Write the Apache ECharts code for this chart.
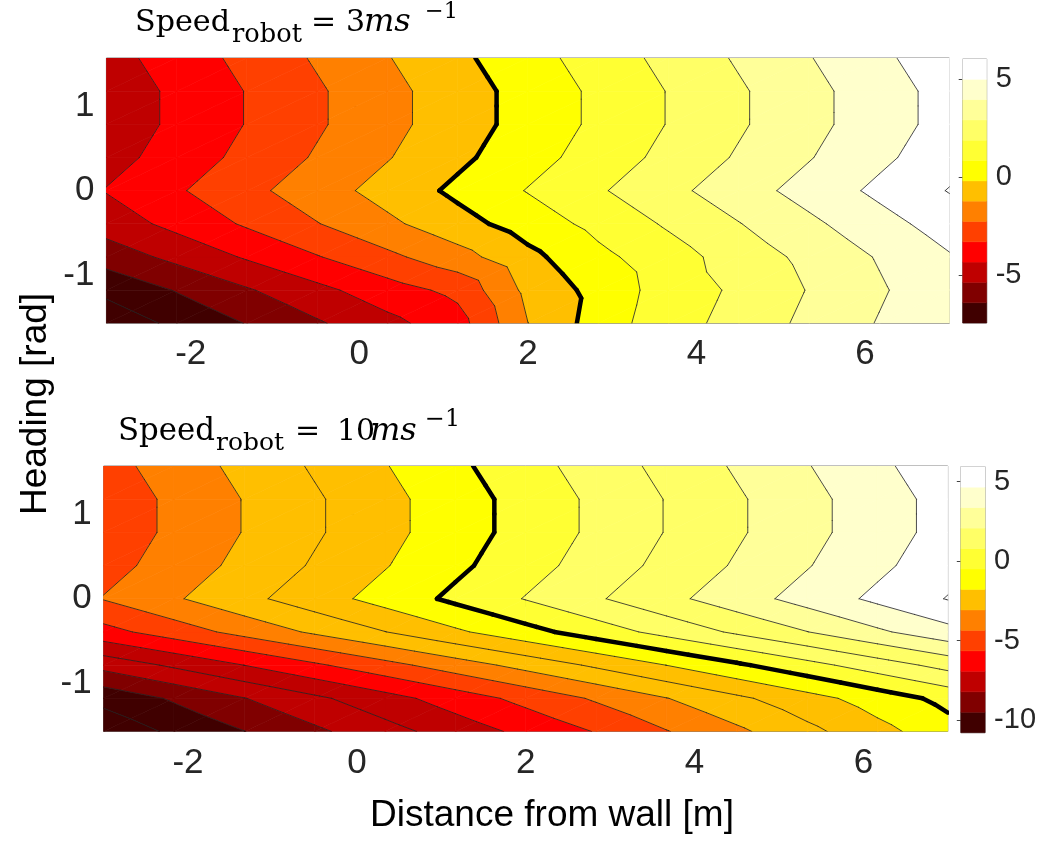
<!DOCTYPE html>
<html><head><meta charset="utf-8">
<script src="https://cdn.jsdelivr.net/npm/echarts@6/dist/echarts.min.js"></script>
<style>html,body{margin:0;padding:0;background:#fff}#c{width:1051px;height:858px}</style>
</head><body><div id="c"></div>
<script>
// ---- grid of the contour data ----
const distance = [-3, -2.1667, -1.3333, -0.5, 0.3333, 1.1667, 2, 2.8333, 3.6667, 4.5, 5.3333, 6.1667, 7];
const heading = [-1.5708, -1.1781, -0.7854, -0.3927, 0, 0.3927, 0.7854, 1.1781, 1.5708];

// rows: heading[0] (-pi/2) ... heading[8] (pi/2); columns: distance
const zSpeed3 = [
  [-7.62, -6.79, -5.96, -5.12, -4.29, -3.41, -1.01, 0.44, 1.61, 2.33, 3.25, 4.06, 4.90],
  [-6.77, -5.94, -5.10, -4.27, -3.44, -2.73, -0.73, 0.32, 1.46, 2.17, 3.05, 3.88, 4.71],
  [-5.56, -4.73, -3.89, -3.06, -2.23, -1.38, -0.27, 0.75, 1.56, 2.45, 3.25, 4.08, 4.92],
  [-4.54, -3.71, -2.87, -2.04, -1.21, -0.37, 0.46, 1.29, 2.13, 2.96, 3.79, 4.63, 5.46],
  [-3.95, -3.12, -2.28, -1.45, -0.62, 0.22, 1.05, 1.88, 2.72, 3.55, 4.38, 5.22, 6.05],
  [-4.39, -3.56, -2.72, -1.89, -1.06, -0.22, 0.61, 1.44, 2.28, 3.11, 3.94, 4.78, 5.61],
  [-4.63, -3.80, -2.96, -2.13, -1.30, -0.46, 0.37, 1.20, 2.04, 2.87, 3.70, 4.54, 5.37],
  [-4.63, -3.80, -2.96, -2.13, -1.30, -0.46, 0.37, 1.20, 2.04, 2.87, 3.70, 4.54, 5.37],
  [-4.38, -3.55, -2.71, -1.88, -1.05, -0.21, 0.62, 1.45, 2.29, 3.12, 3.95, 4.79, 5.62]
];
const zSpeed10 = [
  [-10.70, -9.82, -9.02, -8.20, -7.37, -6.55, -5.75, -4.95, -4.05, -3.20, -2.27, -1.33, -0.40],
  [-9.70, -8.87, -8.03, -7.20, -6.37, -5.53, -4.70, -3.87, -3.03, -2.20, -1.37, -0.53, 0.30],
  [-7.66, -6.83, -5.99, -5.16, -4.33, -3.49, -2.66, -1.83, -0.99, -0.16, 0.67, 1.51, 2.34],
  [-5.34, -4.51, -3.67, -2.84, -2.02, -1.17, -0.34, 0.49, 1.33, 2.16, 2.98, 3.83, 4.66],
  [-3.95, -3.12, -2.28, -1.45, -0.62, 0.22, 1.05, 1.88, 2.72, 3.55, 4.38, 5.22, 6.05],
  [-4.39, -3.56, -2.72, -1.89, -1.06, -0.22, 0.61, 1.44, 2.28, 3.11, 3.94, 4.78, 5.61],
  [-4.63, -3.80, -2.96, -2.13, -1.30, -0.46, 0.37, 1.20, 2.04, 2.87, 3.70, 4.54, 5.37],
  [-4.63, -3.80, -2.96, -2.13, -1.30, -0.46, 0.37, 1.20, 2.04, 2.87, 3.70, 4.54, 5.37],
  [-4.38, -3.55, -2.71, -1.88, -1.05, -0.21, 0.62, 1.45, 2.29, 3.12, 3.95, 4.79, 5.62]
];

// contour levels and fill colour of each band (below first level ... above last level)
const levels3 = [-7, -6, -5, -4, -3, -2, -1, 0, 1, 2, 3, 4, 5, 6];
const bands3 = ['#400000', '#400000', '#800000', '#bf0000', '#ff0000', '#ff4000', '#ff8000', '#ffbf00',
  '#ffff00', '#ffff33', '#ffff66', '#ffff99', '#ffffcc', '#ffffff', '#ffffff'];
const levels10 = [-10, -9, -8, -7, -6, -5, -4, -3, -2, -1, 0, 1, 2, 3, 4, 5, 6];
const bands10 = ['#400000', '#400000', '#800000', '#bf0000', '#bf0000', '#ff0000', '#ff4000', '#ff8000',
  '#ffbf00', '#ffbf00', '#ffff00', '#ffff33', '#ffff66', '#ffff66', '#ffff99', '#ffffcc', '#ffffff', '#ffffff'];
const thickLevel = 0;

// colormap (hot, 13 entries) and colourbar ranges
const hotColors = ['#400000', '#800000', '#bf0000', '#ff0000', '#ff4000', '#ff8000', '#ffbf00',
  '#ffff00', '#ffff33', '#ffff66', '#ffff99', '#ffffcc', '#ffffff'];
const cbarRange3 = [-7.45, 6.04];
const cbarRange10 = [-10.8, 5.94];

// tick labels
const xTicks = [-2, 0, 2, 4, 6];
const yTicks = [-1, 0, 1];
const cbarTicks3 = [-5, 0, 5];
const cbarTicks10 = [-10, -5, 0, 5];

// ---- contour helpers ----
function tris(Z, i, j) {
  const P = (a, b) => ({ p: [distance[a], heading[b]], v: Z[b][a] });
  const A = P(i, j), B = P(i + 1, j), C = P(i + 1, j + 1), D = P(i, j + 1);
  return [[A, B, C], [A, C, D]];
}
function clip(poly, lev, above) {
  const out = [];
  for (let k = 0; k < poly.length; k++) {
    const a = poly[k], b = poly[(k + 1) % poly.length];
    const ia = above ? a.v >= lev : a.v <= lev;
    const ib = above ? b.v >= lev : b.v <= lev;
    if (ia) out.push(a);
    if (ia !== ib) {
      const t = (lev - a.v) / (b.v - a.v);
      out.push({ p: [a.p[0] + t * (b.p[0] - a.p[0]), a.p[1] + t * (b.p[1] - a.p[1])], v: lev });
    }
  }
  return out;
}
function iso(tri, L) {
  const pts = [];
  for (let k = 0; k < 3; k++) {
    const a = tri[k], b = tri[(k + 1) % 3];
    if ((a.v >= L) !== (b.v >= L)) {
      const t = (L - a.v) / (b.v - a.v);
      pts.push([a.p[0] + t * (b.p[0] - a.p[0]), a.p[1] + t * (b.p[1] - a.p[1])]);
    }
  }
  return pts.length === 2 ? pts : null;
}
function fillRender(Z, levels, colors) {
  return function (params, api) {
    const i = api.value(2), j = api.value(3);
    const children = [];
    for (const tri of tris(Z, i, j)) {
      for (let k = 0; k <= levels.length; k++) {
        let poly = tri;
        if (k > 0) poly = clip(poly, levels[k - 1], true);
        if (poly.length >= 3 && k < levels.length) poly = clip(poly, levels[k], false);
        if (poly.length < 3) continue;
        children.push({
          type: 'polygon', silent: true,
          shape: { points: poly.map(q => api.coord(q.p)) },
          style: { fill: colors[k], stroke: colors[k], lineWidth: 0.7 }
        });
      }
    }
    return { type: 'group', children };
  };
}
function lineRender(Z, levels, thick) {
  return function (params, api) {
    const i = api.value(2), j = api.value(3);
    const children = [];
    for (const tri of tris(Z, i, j)) {
      for (const L of levels) {
        if ((L === thickLevel) !== thick) continue;
        const s = iso(tri, L);
        if (!s) continue;
        const a = api.coord(s[0]), b = api.coord(s[1]);
        children.push({
          type: 'line', silent: true,
          shape: { x1: a[0], y1: a[1], x2: b[0], y2: b[1] },
          style: thick ? { stroke: '#000', lineWidth: 4.5, lineCap: 'round' }
                       : { stroke: '#222', lineWidth: 0.9, lineCap: 'round', opacity: 0.9 }
        });
      }
    }
    return { type: 'group', children };
  };
}
const cells = [];
for (let j = 0; j < heading.length - 1; j++)
  for (let i = 0; i < distance.length - 1; i++)
    cells.push([(distance[i] + distance[i + 1]) / 2, (heading[j] + heading[j + 1]) / 2, i, j]);

function cbarData(range) {
  const n = hotColors.length, step = (range[1] - range[0]) / n;
  return hotColors.map((c, k) => [0.5, range[0] + (k + 0.5) * step, range[0] + k * step, range[0] + (k + 1) * step, k]);
}
function cbarRender(params, api) {
  const p0 = api.coord([0, api.value(2)]), p1 = api.coord([1, api.value(3)]);
  const c = hotColors[api.value(4)];
  return { type: 'rect', silent: true, shape: { x: p0[0], y: p1[1], width: p1[0] - p0[0], height: p0[1] - p1[1] },
    style: { fill: c, stroke: c, lineWidth: 0.5 } };
}

// ---- axes ----
const tickFont = { fontFamily: 'Liberation Sans', fontSize: 35, color: '#262626' };
const frame = { show: true, borderColor: '#808080', borderWidth: 1, backgroundColor: 'transparent' };
function xAx(g, pos, lab) {
  return { gridIndex: g, type: 'value', min: -3, max: 7, position: pos,
    axisLine: { show: false }, splitLine: { show: false },
    axisTick: { show: true, inside: true, length: 8, customValues: xTicks, lineStyle: { color: '#444' } },
    axisLabel: Object.assign({ show: lab, customValues: xTicks, margin: 14 }, tickFont) };
}
function yAx(g, pos, lab) {
  return { gridIndex: g, type: 'value', min: -Math.PI / 2, max: Math.PI / 2, position: pos,
    axisLine: { show: false }, splitLine: { show: false },
    axisTick: { show: true, inside: true, length: 8, customValues: yTicks, lineStyle: { color: '#444' } },
    axisLabel: Object.assign({ show: lab, customValues: yTicks, margin: 12 }, tickFont) };
}
function cbX(g) { return { gridIndex: g, type: 'value', min: 0, max: 1, show: false }; }
function cbY(g, range, ticks) {
  return { gridIndex: g, type: 'value', min: range[0], max: range[1], position: 'right',
    axisLine: { show: false }, splitLine: { show: false },
    axisTick: { show: true, inside: true, length: 4, customValues: ticks, lineStyle: { color: '#444' } },
    axisLabel: { customValues: ticks, margin: 9, fontFamily: 'Liberation Sans', fontSize: 29, color: '#262626' } };
}

// ---- titles (pieces laid out like the LaTeX title) ----
const serif = 'DejaVu Serif';
const mctx = document.createElement('canvas').getContext('2d');
function fit(text, italic, target, lo, hi) {
  mctx.font = (italic ? 'italic ' : '') + '100px "' + serif + '"';
  const w = mctx.measureText(text).width / 100;
  return Math.max(lo, Math.min(hi, target / w));
}
// [text, left, target width, baseline offset, italic, min size, max size]
function titlePieces(base, parts) {
  return parts.map(([text, left, target, dy, italic, lo, hi]) => {
    const size = target ? fit(text, italic, target, lo, hi) : lo;
    return { type: 'text', x: left, y: base + dy - 0.3 * size, silent: true,
      style: { text, fontFamily: serif, fontSize: size, fontStyle: italic ? 'italic' : 'normal',
        fill: '#000', textAlign: 'left', textVerticalAlign: 'middle' } };
  });
}
const title3 = titlePieces(32, [
  ['Speed', 135, 95, 0, false, 26, 34], ['robot', 232, 70, 11, false, 18, 26], ['=', 311, 0, 0, false, 30, 30],
  ['3', 346, 0, 0, false, 30, 30], ['ms', 364, 57, 0, true, 28, 32], ['\u22121', 425, 33, -13, false, 18, 24]]);
const title10 = titlePieces(441, [
  ['Speed', 118, 97, 0, false, 26, 34], ['robot', 216, 68, 10, false, 18, 26], ['=', 295, 0, 0, false, 30, 30],
  ['10', 337, 0, 0, false, 30, 30], ['ms', 370, 54, 0, true, 28, 32], ['\u22121', 425, 35, -14, false, 18, 24]]);

const option = {
  animation: false,
  backgroundColor: '#fff',
  grid: [
    Object.assign({ left: 106.4, top: 58, width: 843, height: 265.3 }, frame),
    Object.assign({ left: 103.6, top: 466, width: 844.2, height: 265.5 }, frame),
    Object.assign({ left: 962.7, top: 59, width: 24, height: 264 }, frame),
    Object.assign({ left: 960.8, top: 466.7, width: 24.3, height: 266 }, frame)
  ],
  xAxis: [xAx(0, 'bottom', true), xAx(0, 'top', false), xAx(1, 'bottom', true), xAx(1, 'top', false), cbX(2), cbX(3)],
  yAxis: [yAx(0, 'left', true), yAx(0, 'right', false), yAx(1, 'left', true), yAx(1, 'right', false),
    cbY(2, cbarRange3, cbarTicks3), cbY(3, cbarRange10, cbarTicks10)],
  series: [
    { type: 'custom', xAxisIndex: 0, yAxisIndex: 0, data: cells, encode: { x: 0, y: 1 }, clip: true, z: 1, renderItem: fillRender(zSpeed3, levels3, bands3) },
    { type: 'custom', xAxisIndex: 0, yAxisIndex: 0, data: cells, encode: { x: 0, y: 1 }, clip: true, z: 2, renderItem: lineRender(zSpeed3, levels3, false) },
    { type: 'custom', xAxisIndex: 0, yAxisIndex: 0, data: cells, encode: { x: 0, y: 1 }, clip: true, z: 3, renderItem: lineRender(zSpeed3, levels3, true) },
    { type: 'custom', xAxisIndex: 2, yAxisIndex: 2, data: cells, encode: { x: 0, y: 1 }, clip: true, z: 1, renderItem: fillRender(zSpeed10, levels10, bands10) },
    { type: 'custom', xAxisIndex: 2, yAxisIndex: 2, data: cells, encode: { x: 0, y: 1 }, clip: true, z: 2, renderItem: lineRender(zSpeed10, levels10, false) },
    { type: 'custom', xAxisIndex: 2, yAxisIndex: 2, data: cells, encode: { x: 0, y: 1 }, clip: true, z: 3, renderItem: lineRender(zSpeed10, levels10, true) },
    { type: 'custom', xAxisIndex: 4, yAxisIndex: 4, data: cbarData(cbarRange3), encode: { x: 0, y: 1 }, renderItem: cbarRender },
    { type: 'custom', xAxisIndex: 5, yAxisIndex: 5, data: cbarData(cbarRange10), encode: { x: 0, y: 1 }, renderItem: cbarRender }
  ],
  graphic: title3.concat(title10).concat([
    { type: 'text', x: 552, y: 816, silent: true, style: { text: 'Distance from wall [m]', fontFamily: 'Liberation Sans', fontSize: 37, fill: '#000', textAlign: 'center', textVerticalAlign: 'middle' } },
    { type: 'text', x: 36, y: 404, rotation: Math.PI / 2, silent: true, style: { text: 'Heading [rad]', fontFamily: 'Liberation Sans', fontSize: 37, fill: '#000', textAlign: 'center', textVerticalAlign: 'middle' } }
  ])
};
const chart = echarts.init(document.getElementById('c'), null, { renderer: 'canvas' });
chart.setOption(option);
</script>
</body></html>
